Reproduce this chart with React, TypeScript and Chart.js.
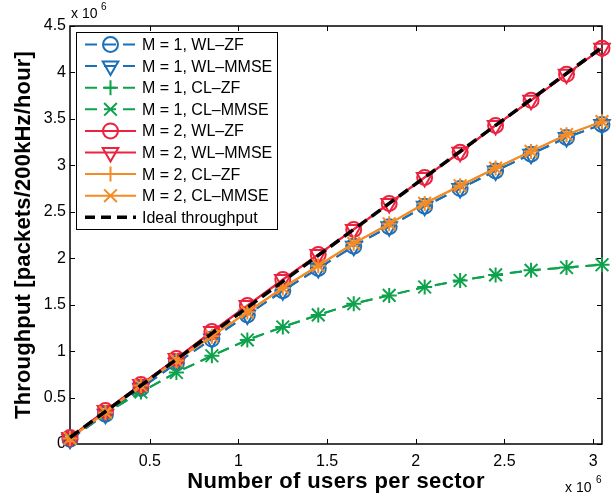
import React, { useEffect, useRef } from "react";
import { Chart, registerables } from "chart.js";
import { drawPoint } from "chart.js/helpers";

Chart.register(...registerables);

// Number of users per sector (x 10^6)
const usersPerSector = [0.05, 0.25, 0.45, 0.65, 0.85, 1.05, 1.25, 1.45, 1.65, 1.85, 2.05, 2.25, 2.45, 2.65, 2.85, 3.05];
// Throughput (x 10^6 packets/200kHz/hour)
const m1WL = [0.05, 0.32, 0.6, 0.87, 1.13, 1.39, 1.65, 1.89, 2.13, 2.34, 2.56, 2.75, 2.94, 3.12, 3.3, 3.44];
const m1CL = [0.06, 0.33, 0.56, 0.77, 0.95, 1.12, 1.26, 1.39, 1.51, 1.6, 1.69, 1.76, 1.82, 1.87, 1.9, 1.93];
const m2WL = [0.07, 0.36, 0.64, 0.92, 1.21, 1.49, 1.77, 2.04, 2.31, 2.59, 2.87, 3.14, 3.43, 3.7, 3.98, 4.26];
const m2CL = [0.06, 0.34, 0.63, 0.9, 1.16, 1.42, 1.68, 1.92, 2.16, 2.37, 2.59, 2.78, 2.97, 3.15, 3.33, 3.47];
const idealThroughput = [0.07, 0.35, 0.63, 0.91, 1.19, 1.47, 1.75, 2.03, 2.31, 2.59, 2.87, 3.15, 3.43, 3.71, 3.99, 4.27];

const xTickValues = [0.5, 1, 1.5, 2, 2.5, 3];
const yTickValues = [0, 0.5, 1, 1.5, 2, 2.5, 3, 3.5, 4, 4.5];

const seriesLabels = [
  "M = 1, WL\u2013ZF",
  "M = 1, WL\u2013MMSE",
  "M = 1, CL\u2013ZF",
  "M = 1, CL\u2013MMSE",
  "M = 2, WL\u2013ZF",
  "M = 2, WL\u2013MMSE",
  "M = 2, CL\u2013ZF",
  "M = 2, CL\u2013MMSE",
  "Ideal throughput",
];

const BLUE = "#1b6fb8";
const GREEN = "#0ea24c";
const RED = "#ec2340";
const ORANGE = "#f58b24";
const BLACK = "#000000";

const FONT = "'Liberation Sans', Arial, Helvetica, sans-serif";

function makeSet(
  idx: number,
  data: number[],
  color: string,
  pointStyle: any,
  radius: number,
  rotation: number,
  dash: number[],
  width: number
) {
  return {
    label: seriesLabels[idx],
    data: usersPerSector.map((x, i) => ({ x, y: data[i] })),
    borderColor: color,
    backgroundColor: "rgba(0,0,0,0)",
    borderWidth: width,
    borderDash: dash,
    pointStyle,
    pointRadius: radius,
    pointHoverRadius: radius,
    pointRotation: rotation,
    pointBorderColor: color,
    pointBackgroundColor: "rgba(0,0,0,0)",
    pointBorderWidth: 2,
    fill: false,
    tension: 0,
    clip: false as any,
    order: 20 - idx,
  };
}

const framePlugin = {
  id: "frame",
  beforeDatasetsDraw(chart: any) {
    const { ctx, chartArea } = chart;
    const { left, right, top, bottom } = chartArea;
    const xs = chart.scales.x;
    const ys = chart.scales.y;
    ctx.save();
    ctx.strokeStyle = "#000";
    ctx.lineWidth = 1.5;
    ctx.strokeRect(left, top, right - left, bottom - top);
    ctx.lineWidth = 1;
    const tl = 5;
    ctx.beginPath();
    xTickValues.forEach((v) => {
      const px = Math.round(xs.getPixelForValue(v)) + 0.5;
      ctx.moveTo(px, bottom);
      ctx.lineTo(px, bottom - tl);
      ctx.moveTo(px, top);
      ctx.lineTo(px, top + tl);
    });
    yTickValues.forEach((v) => {
      const py = Math.round(ys.getPixelForValue(v)) + 0.5;
      ctx.moveTo(left, py);
      ctx.lineTo(left + tl, py);
      ctx.moveTo(right, py);
      ctx.lineTo(right - tl, py);
    });
    ctx.stroke();
    ctx.restore();
  },
  afterDraw(chart: any) {
    const { ctx, chartArea } = chart;
    const { left, right, top, bottom } = chartArea;
    ctx.save();
    ctx.fillStyle = "#000";
    // axis titles
    ctx.font = `bold 22px ${FONT}`;
    ctx.textAlign = "center";
    ctx.textBaseline = "alphabetic";
    (ctx as any).letterSpacing = "0.4px";
    ctx.fillText("Number of users per sector", (left + right) / 2, 488);
    ctx.save();
    (ctx as any).letterSpacing = "0.15px";
    ctx.translate(30, (top + bottom) / 2);
    ctx.rotate(-Math.PI / 2);
    ctx.fillText("Throughput [packets/200kHz/hour]", 0, 0);
    ctx.restore();
    (ctx as any).letterSpacing = "0px";
    // exponent labels
    ctx.textAlign = "left";
    ctx.font = `14px ${FONT}`;
    ctx.fillText("x 10", 71, 18);
    ctx.fillText("x 10", 565, 492);
    ctx.font = `10px ${FONT}`;
    ctx.fillText("6", 101, 10);
    ctx.fillText("6", 596, 483);

    // legend
    const bx = 76.5, by = 32.5, bw = 201, bh = 197;
    ctx.fillStyle = "#fff";
    ctx.fillRect(bx, by, bw, bh);
    ctx.strokeStyle = "#000";
    ctx.lineWidth = 1;
    ctx.strokeRect(bx, by, bw, bh);
    chart.data.datasets.forEach((ds: any, i: number) => {
      const y = 44.5 + i * 21.6;
      ctx.save();
      ctx.strokeStyle = ds.borderColor;
      ctx.lineWidth = ds.borderWidth;
      ctx.setLineDash(ds.borderDash && ds.borderDash.length ? (i === 8 ? [10, 6] : [12, 7]) : []);
      ctx.beginPath();
      ctx.moveTo(85, y);
      ctx.lineTo(136, y);
      ctx.stroke();
      ctx.setLineDash([]);
      if (ds.pointRadius > 0) {
        ctx.strokeStyle = ds.pointBorderColor;
        ctx.fillStyle = "rgba(0,0,0,0)";
        drawPoint(
          ctx,
          {
            pointStyle: ds.pointStyle,
            radius: ds.pointRadius,
            rotation: ds.pointRotation,
            borderWidth: 2,
          } as any,
          110.5,
          y
        );
      }
      ctx.restore();
      ctx.fillStyle = "#000";
      ctx.font = `16px ${FONT}`;
      ctx.textAlign = "left";
      ctx.textBaseline = "middle";
      ctx.fillText(ds.label, 142, y + 1);
    });
    ctx.restore();
  },
};

export default function App() {
  const ref = useRef<HTMLCanvasElement | null>(null);
  useEffect(() => {
    if (!ref.current) return;
    const datasets = [
      makeSet(0, m1WL, BLUE, "circle", 7.5, 0, [12, 7], 2),
      makeSet(1, m1WL, BLUE, "triangle", 9, 180, [12, 7], 2),
      makeSet(2, m1CL, GREEN, "cross", 7.5, 0, [12, 7], 2),
      makeSet(3, m1CL, GREEN, "crossRot", 9, 0, [12, 7], 2),
      makeSet(4, m2WL, RED, "circle", 7.5, 0, [], 2),
      makeSet(5, m2WL, RED, "triangle", 9, 180, [], 2),
      makeSet(6, m2CL, ORANGE, "cross", 7.5, 0, [], 2),
      makeSet(7, m2CL, ORANGE, "crossRot", 9, 0, [], 2),
      makeSet(8, idealThroughput, BLACK, "circle", 0, 0, [11, 6], 3.5),
    ];
    const chart = new Chart(ref.current, {
      type: "line",
      data: { datasets: datasets as any },
      options: {
        responsive: false,
        animation: false,
        devicePixelRatio: 1,
        layout: { padding: { left: 0, top: 26, right: 11, bottom: 0 } },
        plugins: {
          legend: { display: false },
          tooltip: { enabled: false },
        },
        scales: {
          x: {
            type: "linear",
            min: 0.05,
            max: 3.05,
            afterBuildTicks: (s: any) => {
              s.ticks = xTickValues.map((v) => ({ value: v }));
            },
            afterFit: (s: any) => {
              s.height = 53;
            },
            grid: { display: false, drawTicks: false },
            border: { display: false },
            ticks: {
              padding: 8,
              color: "#000",
              font: { family: FONT, size: 16 },
              callback: (v: any) => String(v),
              maxRotation: 0,
              autoSkip: false,
            },
          },
          y: {
            type: "linear",
            min: 0,
            max: 4.5,
            afterBuildTicks: (s: any) => {
              s.ticks = yTickValues.map((v) => ({ value: v }));
            },
            afterFit: (s: any) => {
              s.width = 70;
            },
            grid: { display: false, drawTicks: false },
            border: { display: false },
            ticks: {
              padding: 4,
              color: "#000",
              font: { family: FONT, size: 16 },
              callback: (v: any) => String(v),
              autoSkip: false,
            },
          },
        },
      },
      plugins: [framePlugin],
    });
    return () => chart.destroy();
  }, []);
  return (
    <div style={{ position: "absolute", left: 0, top: 0, width: 613, height: 497, background: "#fff" }}>
      <canvas ref={ref} width={613} height={497} style={{ width: 613, height: 497, display: "block" }} />
    </div>
  );
}
